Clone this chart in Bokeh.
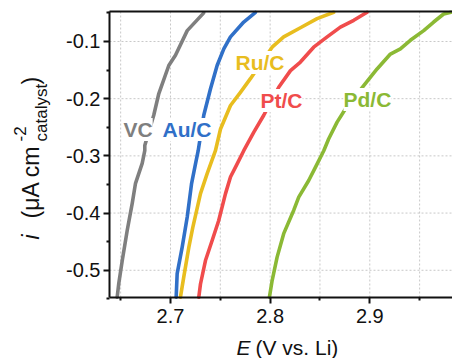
import math
from bokeh.plotting import figure
from bokeh.models import Range1d, FixedTicker, Label, LinearAxis
from bokeh.embed import file_html
from bokeh.resources import INLINE

# ---- data ----
vc_E = [2.6465, 2.6481, 2.6516, 2.6566, 2.6616, 2.6649, 2.6716, 2.6742, 2.6742, 2.6832, 2.6883, 2.6983, 2.7050, 2.7168, 2.7334]
vc_i = [-0.547, -0.523, -0.483, -0.430, -0.383, -0.348, -0.313, -0.291, -0.282, -0.229, -0.191, -0.142, -0.124, -0.081, -0.050]

au_E = [2.7057, 2.7067, 2.7117, 2.7168, 2.7211, 2.7251, 2.7278, 2.7334, 2.7401, 2.7468, 2.7535, 2.7602, 2.7735, 2.7853]
au_i = [-0.547, -0.506, -0.460, -0.407, -0.349, -0.314, -0.291, -0.229, -0.183, -0.142, -0.113, -0.092, -0.066, -0.049]

ru_E = [2.7100, 2.7133, 2.7184, 2.7224, 2.7301, 2.7368, 2.7451, 2.7502, 2.7602, 2.7702, 2.7802, 2.8020, 2.8136, 2.8304, 2.8471, 2.8638]
ru_i = [-0.547, -0.512, -0.460, -0.425, -0.366, -0.331, -0.291, -0.253, -0.212, -0.189, -0.165, -0.110, -0.092, -0.076, -0.060, -0.049]

pt_E = [2.7284, 2.7301, 2.7351, 2.7418, 2.7484, 2.7552, 2.7602, 2.7669, 2.7735, 2.7835, 2.7936, 2.8086, 2.8204, 2.8304, 2.8437, 2.8572, 2.8705, 2.8839, 2.8973]
pt_i = [-0.547, -0.524, -0.483, -0.448, -0.413, -0.366, -0.337, -0.314, -0.291, -0.259, -0.229, -0.180, -0.151, -0.136, -0.110, -0.092, -0.075, -0.063, -0.049]

pd_E = [2.7993, 2.8020, 2.8070, 2.8136, 2.8237, 2.8287, 2.8387, 2.8454, 2.8538, 2.8588, 2.8672, 2.8755, 2.8939, 2.9073, 2.9207, 2.9307, 2.9407, 2.9541, 2.9641, 2.9741, 2.9815]
pd_i = [-0.547, -0.518, -0.477, -0.436, -0.395, -0.372, -0.343, -0.320, -0.291, -0.270, -0.241, -0.218, -0.177, -0.148, -0.122, -0.113, -0.098, -0.081, -0.066, -0.052, -0.049]

series_names = ["VC", "Au/C", "Ru/C", "Pt/C", "Pd/C"]
x_ticks = [2.7, 2.8, 2.9]
x_tick_labels = ["2.7", "2.8", "2.9"]
x_minor = [2.65, 2.75, 2.85, 2.95]
y_ticks = [-0.5, -0.4, -0.3, -0.2, -0.1]
y_tick_labels = ["-0.5", "-0.4", "-0.3", "-0.2", "-0.1"]
y_minor = [-0.55, -0.45, -0.35, -0.25, -0.15, -0.05]

# plotting window (axis extents)
x_lo, x_hi = 2.6388, 2.983
y_lo, y_hi = -0.5476, -0.0476

# ---- layout / styling ----
colors = ["#7f7f7f", "#3070c8", "#e8bd1f", "#f04c4c", "#8bb935"]
FONT = "Liberation Sans"
W, H = 452, 358
PL, PR, PT, PB = 109, 0, 11, 61  # pixel margins around the plotting window

# the frame covers the whole canvas; the axes are pinned to the window edges
xpp = (x_hi - x_lo) / (W - PL - PR)
ypp = (y_hi - y_lo) / (H - PT - PB)
p = figure(width=W, height=H, output_backend="svg", toolbar_location=None, title=None,
           x_range=Range1d(x_lo - PL * xpp, x_hi + PR * xpp),
           y_range=Range1d(y_lo - PB * ypp, y_hi + PT * ypp),
           min_border_left=0, min_border_right=0, min_border_top=0, min_border_bottom=0)
p.outline_line_color = None
p.background_fill_color = "white"
p.border_fill_color = "white"
p.xgrid.visible = False
p.ygrid.visible = False

# grid lines (x at every 0.05, y at every 0.1)
gx = x_minor + x_ticks
p.segment(x0=gx, x1=gx, y0=[y_lo] * len(gx), y1=[y_hi] * len(gx),
          line_color="#c8c8c8", line_dash="2 2", line_width=1)
p.segment(x0=[x_lo] * len(y_ticks), x1=[x_hi] * len(y_ticks), y0=y_ticks, y1=y_ticks,
          line_color="#c8c8c8", line_dash="2 2", line_width=1)

xax, yax = p.xaxis[0], p.yaxis[0]
xax.fixed_location = y_lo
yax.fixed_location = x_lo
xax.bounds = (x_lo, x_hi)
yax.bounds = (y_lo, y_hi)
for ax, ticks, labels, minor in ((xax, x_ticks, x_tick_labels, x_minor),
                                 (yax, y_ticks, y_tick_labels, y_minor)):
    ax.ticker = FixedTicker(ticks=ticks, minor_ticks=minor)
    ax.major_label_overrides = {t: l for t, l in zip(ticks, labels)}
    ax.axis_line_width = 2
    ax.axis_line_color = "#111111"
    ax.major_tick_line_width = 2
    ax.major_tick_line_color = "#111111"
    ax.minor_tick_line_width = 2
    ax.minor_tick_line_color = "#111111"
    ax.major_tick_in = 0
    ax.major_tick_out = 6
    ax.minor_tick_in = 0
    ax.minor_tick_out = 3
    ax.major_label_text_font = FONT
    ax.major_label_text_font_size = "20px"
    ax.major_label_text_color = "#111111"
yax.major_label_standoff = 3
xax.major_label_standoff = 5

top = LinearAxis(ticker=FixedTicker(ticks=[]), major_label_text_font_size="0px",
                 major_tick_line_color=None, minor_tick_line_color=None,
                 axis_line_width=2, axis_line_color="#111111",
                 fixed_location=y_hi, bounds=(x_lo, x_hi))
p.add_layout(top, "above")

all_E = [vc_E, au_E, ru_E, pt_E, pd_E]
all_i = [vc_i, au_i, ru_i, pt_i, pd_i]
for E, I, c in zip(all_E, all_i, colors):
    p.line(E, I, line_color=c, line_width=3.6, line_join="round", line_cap="round")


def add_text(t, px, py, size, style="normal", color="#111111", rotated=False, bg=None):
    """Place text with its left end / baseline at canvas pixel (px, py)."""
    off = round(0.36 * size)  # compensate Label's baseline placement
    if rotated:
        x, y, ang = px - off, H - py, math.pi / 2
    else:
        x, y, ang = px, H - py + off, 0
    p.add_layout(Label(x=x, y=y, x_units="screen", y_units="screen", text=t, angle=ang,
                       text_font=FONT, text_font_style=style, text_font_size=f"{size}px",
                       text_color=color, text_align="left", text_baseline="alphabetic",
                       background_fill_color=bg))


# series labels (left edge, baseline in canvas pixels)
label_pos = [(123, 137), (162, 137), (235, 70), (260, 108), (343, 107)]
for name, (lx, ly), c in zip(series_names, label_pos, colors):
    add_text(name, lx, ly, 21, "bold", c, bg="white")

# x axis title
add_text("E", 236, 355, 21, "italic")
add_text("(V vs. Li)", 255, 355, 21)

# y axis title (rotated)
add_text("i", 38, 239, 23, "italic", rotated=True)
add_text("(μA cm", 38, 218, 23, rotated=True)
add_text("-2", 25, 141, 17, rotated=True)
add_text("catalyst", 47, 141, 17, rotated=True)
add_text(")", 38, 84, 23, rotated=True)

open("out.html", "w").write(file_html(p, INLINE))
